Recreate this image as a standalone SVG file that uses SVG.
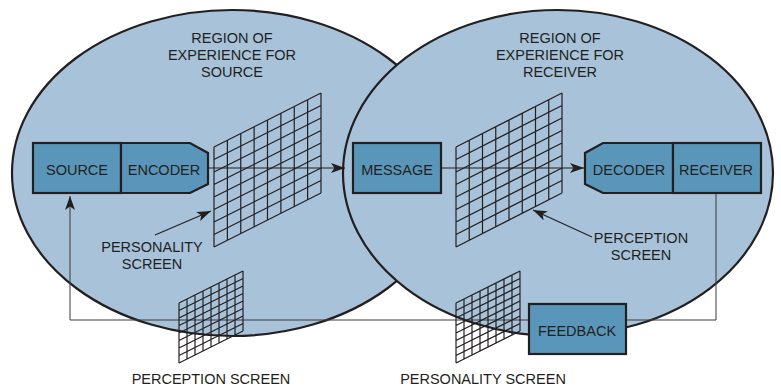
<svg xmlns="http://www.w3.org/2000/svg" xmlns:xlink="http://www.w3.org/1999/xlink" width="781" height="387" viewBox="0 0 781 387">
  <style>
    .region { fill: #a7c2d9; stroke: #231f20; stroke-width: 2.2; }
    .box { fill: #5a96b9; stroke: #231f20; stroke-width: 2.2; stroke-linejoin: miter; }
    .grid { fill: none; stroke: #231f20; stroke-width: 1.2; vector-effect: non-scaling-stroke; }
    .conn { fill: none; stroke: #231f20; stroke-width: 1.2; }
    .fb { fill: none; stroke: #3a3a3a; stroke-width: 1; }
    text { font-family: "Liberation Sans", Arial, sans-serif; font-size: 14.5px; fill: #231f20; text-anchor: middle; }
  </style>
  <defs>
    <marker id="arrow" markerUnits="userSpaceOnUse" markerWidth="14" markerHeight="10" refX="14" refY="5" orient="auto" viewBox="0 0 14 10">
      <path d="M0,0 L14,5 L0,10 L3.5,5 Z" fill="#231f20"/>
    </marker>
    <path id="gridpath" class="grid" d="M0 0V8M1 0V8M2 0V8M3 0V8M4 0V8M5 0V8M6 0V8M7 0V8M8 0V8M0 0H8M0 1H8M0 2H8M0 3H8M0 4H8M0 5H8M0 6H8M0 7H8M0 8H8"/>
  </defs>

  <g id="region-source">
    <ellipse class="region" cx="232" cy="173" rx="220" ry="163"/>
    <text x="232" y="43">REGION OF</text>
    <text x="232" y="60">EXPERIENCE FOR</text>
    <text x="232" y="77">SOURCE</text>
  </g>
  <g id="region-receiver">
    <ellipse class="region" cx="558" cy="173" rx="215" ry="163"/>
    <text x="560" y="43">REGION OF</text>
    <text x="560" y="60">EXPERIENCE FOR</text>
    <text x="560" y="77">RECEIVER</text>
  </g>

  <g id="connectors">
    <path class="fb" d="M716,193 V320 H70 V196" marker-end="url(#arrow)"/>
    <path class="conn" d="M208,168 H345" marker-end="url(#arrow)"/>
    <path class="conn" d="M441,168 H584" marker-end="url(#arrow)"/>
    <path class="conn" d="M155,235 L211,211" marker-end="url(#arrow)"/>
    <path class="conn" d="M592,237 L533,210" marker-end="url(#arrow)"/>
  </g>

  <g id="source">
    <rect class="box" x="33" y="143" width="88" height="50"/>
    <text x="77" y="175">SOURCE</text>
  </g>
  <g id="encoder">
    <path class="box" d="M121,143 H190 L208,153 V184 L190,193 H121 Z"/>
    <text x="164" y="175">ENCODER</text>
  </g>
  <g id="message">
    <rect class="box" x="353" y="143" width="88" height="50"/>
    <text x="397" y="175">MESSAGE</text>
  </g>
  <g id="decoder">
    <path class="box" d="M673,143 H603 L585,153 V184 L603,193 H673 Z"/>
    <text x="629" y="175">DECODER</text>
  </g>
  <g id="receiver">
    <rect class="box" x="673" y="143" width="88" height="50"/>
    <text x="716" y="175">RECEIVER</text>
  </g>
  <g id="feedback">
    <rect class="box" x="529" y="304" width="97" height="50"/>
    <text x="577" y="336">FEEDBACK</text>
  </g>

  <g id="personality-screen-source">
    <use xlink:href="#gridpath" transform="matrix(13.375 -6.75 0 12.5 214 147)"/>
    <text x="152" y="252">PERSONALITY</text>
    <text x="152" y="269">SCREEN</text>
  </g>
  <g id="perception-screen-receiver">
    <use xlink:href="#gridpath" transform="matrix(13.25 -6.75 0 12.5 456 147)"/>
    <text x="641" y="243">PERCEPTION</text>
    <text x="641" y="260">SCREEN</text>
  </g>
  <g id="perception-screen-small">
    <use xlink:href="#gridpath" transform="matrix(8 -4 0 7.5 179 303)"/>
    <text x="211" y="384">PERCEPTION SCREEN</text>
  </g>
  <g id="personality-screen-small">
    <use xlink:href="#gridpath" transform="matrix(8 -4 0 7.5 456 303)"/>
    <text x="483" y="384">PERSONALITY SCREEN</text>
  </g>
</svg>
